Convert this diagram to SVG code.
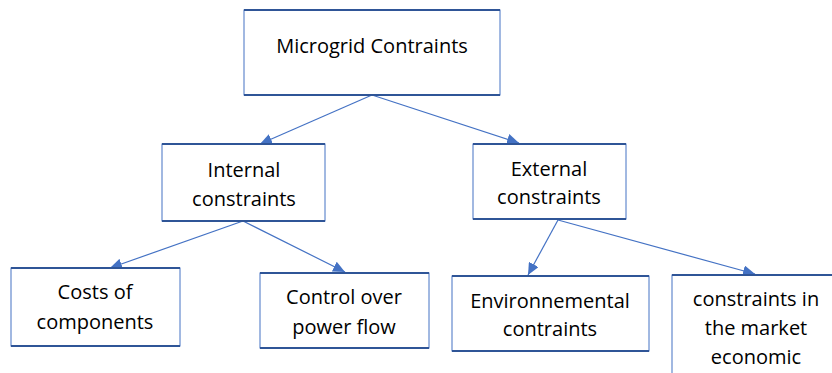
<svg xmlns="http://www.w3.org/2000/svg" width="832" height="373" viewBox="0 0 832 373">
  <defs>
    <marker id="arrow" markerUnits="userSpaceOnUse" markerWidth="13" markerHeight="11" refX="12" refY="5.5" orient="auto">
      <path d="M0,0 L12,5.5 L0,11 Z" fill="#4472C4"/>
    </marker>
    <style>
      .box { fill: #ffffff; stroke: #4472C4; stroke-width: 1; }
      .edge { stroke: #2F5597; stroke-width: 2.2; fill: none; }
      .label { font-family: "Open Sans", "Liberation Sans", sans-serif; font-size: 20px; fill: #000000; text-anchor: middle; }
      .conn { stroke: #4472C4; stroke-width: 1.2; fill: none; marker-end: url(#arrow); }
    </style>
  </defs>
  <rect width="832" height="373" fill="#ffffff"/>

  <g id="connectors">
    <line class="conn" x1="372" y1="95" x2="260" y2="144"/>
    <line class="conn" x1="372" y1="95" x2="519" y2="143"/>
    <line class="conn" x1="243" y1="221" x2="110" y2="268"/>
    <line class="conn" x1="243" y1="221" x2="345" y2="272"/>
    <line class="conn" x1="558" y1="220" x2="528" y2="275"/>
    <line class="conn" x1="558" y1="220" x2="755" y2="274"/>
  </g>

  <g id="microgrid">
    <rect class="box" x="244" y="10" width="256" height="85"/>
    <line class="edge" x1="244" y1="10" x2="500" y2="10"/>
    <line class="edge" x1="244" y1="95" x2="500" y2="95"/>
    <text class="label" x="372" y="53">Microgrid Contraints</text>
  </g>

  <g id="internal">
    <rect class="box" x="162" y="144" width="163" height="77"/>
    <line class="edge" x1="162" y1="144" x2="325" y2="144"/>
    <line class="edge" x1="162" y1="221" x2="325" y2="221"/>
    <text class="label" x="244" y="177">Internal</text>
    <text class="label" x="244" y="206">constraints</text>
  </g>

  <g id="external">
    <rect class="box" x="473" y="144" width="153" height="75"/>
    <line class="edge" x1="473" y1="144" x2="626" y2="144"/>
    <line class="edge" x1="473" y1="219" x2="626" y2="219"/>
    <text class="label" x="549" y="176">External</text>
    <text class="label" x="549" y="204">constraints</text>
  </g>

  <g id="costs">
    <rect class="box" x="11" y="268" width="169" height="78"/>
    <line class="edge" x1="11" y1="268" x2="180" y2="268"/>
    <line class="edge" x1="11" y1="346" x2="180" y2="346"/>
    <text class="label" x="95" y="299">Costs of</text>
    <text class="label" x="95" y="329">components</text>
  </g>

  <g id="control">
    <rect class="box" x="260" y="273" width="169" height="75"/>
    <line class="edge" x1="260" y1="273" x2="429" y2="273"/>
    <line class="edge" x1="260" y1="348" x2="429" y2="348"/>
    <text class="label" x="344" y="304">Control over</text>
    <text class="label" x="344" y="334">power flow</text>
  </g>

  <g id="environmental">
    <rect class="box" x="452" y="276" width="197" height="75"/>
    <line class="edge" x1="452" y1="276" x2="649" y2="276"/>
    <line class="edge" x1="452" y1="351" x2="649" y2="351"/>
    <text class="label" x="550" y="308">Environnemental</text>
    <text class="label" x="550" y="336">contraints</text>
  </g>

  <g id="market">
    <rect class="box" x="672" y="275" width="170" height="110"/>
    <line class="edge" x1="672" y1="275" x2="842" y2="275"/>
    <text class="label" x="756" y="306">constraints in</text>
    <text class="label" x="756" y="335">the market</text>
    <text class="label" x="756" y="364">economic</text>
  </g>
</svg>
